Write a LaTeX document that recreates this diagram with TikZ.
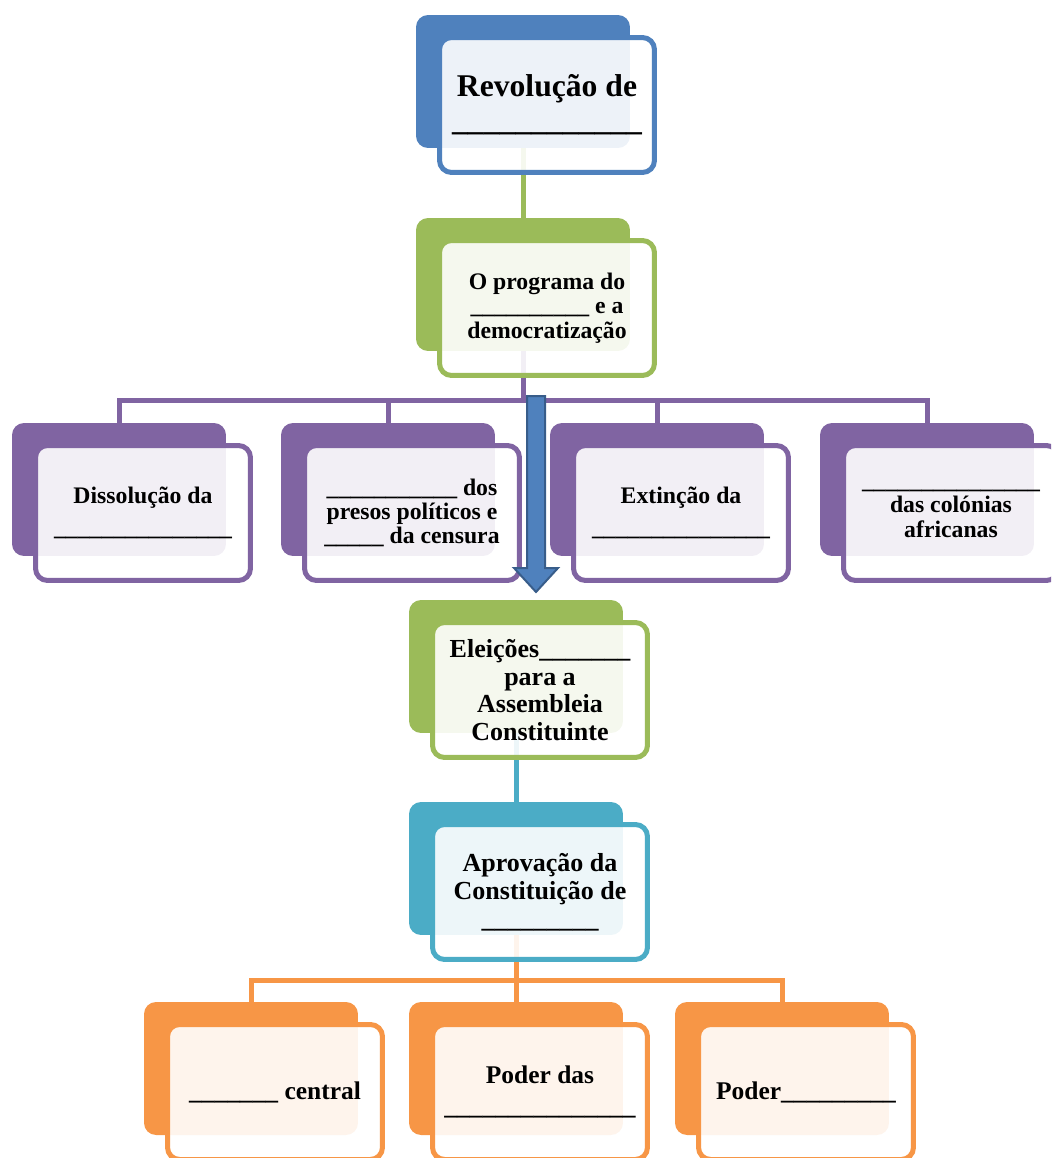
\documentclass[tikz,border=0pt]{standalone}
\usepackage{fontspec}
\setmainfont{Liberation Serif}
\usetikzlibrary{backgrounds,calc}
\definecolor{azul}{RGB}{79,129,189}
\definecolor{azulesc}{RGB}{56,93,138}
\definecolor{verde}{RGB}{155,187,89}
\definecolor{roxo}{RGB}{128,100,162}
\definecolor{turquesa}{RGB}{75,172,198}
\definecolor{laranja}{RGB}{247,150,70}
\newcommand{\lacuna}[1]{\foreach\k in {1,...,#1}{\_}}
% caixa dupla: fundo cheio + frente com contorno
\newcommand{\caixa}[6]{%
  \node[fundo, fill=#2] (#1f) at (#3+86,#4+46.5) {};
  \node[frente, draw=#2, #5] (#1) at (#3+110,#4+70) {#6};
}
\tikzset{
  fundo/.style={rectangle, rounded corners=0.24cm, minimum width=4.28cm,
    minimum height=2.66cm, inner sep=0pt},
  frente/.style={rectangle, rounded corners=0.24cm, line width=0.1cm,
    fill=white, fill opacity=0.9, text opacity=1, minimum width=4.3cm,
    minimum height=2.7cm, inner sep=0pt, align=center, text=black},
  ligacao/.style={line width=0.1cm},
  txttitulo/.style={font=\bfseries\fontsize{18}{19.5}\selectfont},
  txtmedio/.style={font=\bfseries\fontsize{13.5}{13.8}\selectfont},
  txtgrande/.style={font=\bfseries\fontsize{14.8}{15.8}\selectfont},
  txtbase/.style={font=\bfseries\fontsize{14.5}{17.5}\selectfont}
}
\begin{document}
\begin{tikzpicture}[x=0.02cm, y=-0.02cm]
  \useasboundingbox (0,0) rectangle (1051,1158);
  \clip (0,0) rectangle (1051,1158);

  \caixa{rev}{azul}{437}{35}{txttitulo}{Revolução de\\\lacuna{12}}
  \caixa{prog}{verde}{437}{238}{txtmedio}{O programa do\\\lacuna{10} e a\\democratização}

  \caixa{diss}{roxo}{33}{443}{txtmedio}{Dissolução da\\[4pt]\lacuna{15}}
  \caixa{pres}{roxo}{302}{443}{txtmedio}{\lacuna{11} dos\\presos políticos e\\\lacuna{5} da censura}
  \caixa{ext}{roxo}{571}{443}{txtmedio}{Extinção da\\[4pt]\lacuna{15}}
  \caixa{ind}{roxo}{841}{443}{txtmedio}{\lacuna{15}\\das colónias\\africanas}

  \caixa{elei}{verde}{430}{620}{txtgrande}{Eleições\lacuna{7}\\para a\\Assembleia\\Constituinte}
  \caixa{aprov}{turquesa}{430}{822}{txtgrande}{Aprovação da\\Constituição de\\\lacuna{9}}

  \caixa{cent}{laranja}{165}{1022}{txtbase}{\lacuna{7} central}
  \caixa{podA}{laranja}{430}{1022}{txtbase}{Poder das\\\lacuna{15}}
  \caixa{podB}{laranja}{696}{1022}{txtbase}{Poder\lacuna{9}}

  \coordinate (barra) at (0,400);
  \coordinate (barra2) at (0,980);
  \begin{scope}[on background layer]
    \draw[ligacao, verde] (revf) -- (progf);
    \foreach \b in {dissf, presf, extf, indf}
      \draw[ligacao, roxo] (progf) |- (\b |- barra) -- (\b);
    \draw[ligacao, turquesa] (eleif) -- (aprovf);
    \foreach \b in {centf, podAf, podBf}
      \draw[ligacao, laranja] (aprovf) |- (\b |- barra2) -- (\b);
  \end{scope}

  % seta grande entre o programa e as eleicoes
  \coordinate (seta) at (536,396);
  \filldraw[fill=azul, draw=azulesc, line width=0.04cm, line join=miter]
    (seta) ++(-9,0) -- ++(18,0) -- ++(0,172) -- ++(13,0) -- ++(-22,24)
    -- ++(-22,-24) -- ++(13,0) -- cycle;
\end{tikzpicture}
\end{document}
